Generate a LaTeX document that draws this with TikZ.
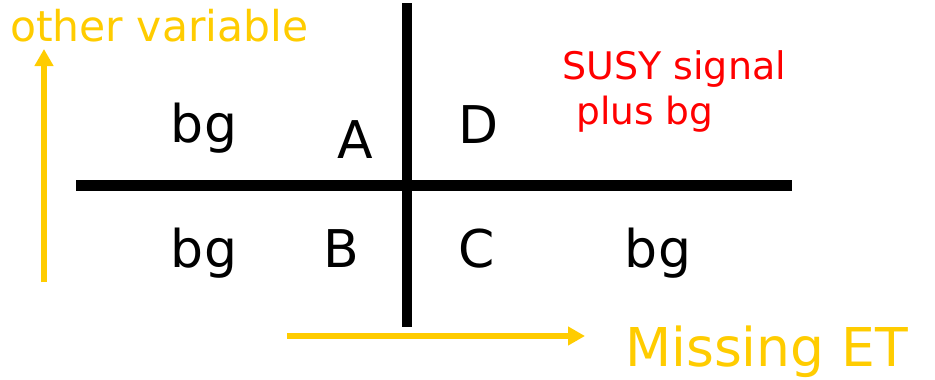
\documentclass[tikz,border=0pt]{standalone}
\usepackage{fontspec}
\setmainfont{DejaVu Sans}
\usetikzlibrary{arrows.meta}
\definecolor{gold}{HTML}{FFCC00}
\definecolor{sred}{HTML}{FF0000}
\tikzset{
  bigtxt/.style={inner sep=0pt, anchor=base, font=\fontsize{52}{60}\selectfont},
  axislabel/.style={inner sep=0pt, anchor=base west, text=gold},
  divider/.style={line width=11pt, black},
  axisarrow/.style={line width=6pt, gold, -{Triangle[width=18pt,length=17pt]}},
}
\begin{document}
\begin{tikzpicture}[x=1pt,y=-1pt]
\useasboundingbox (0,0) rectangle (935,380);
% divider lines
\coordinate (hl) at (76,185);
\coordinate (hr) at (792,185);
\coordinate (vt) at (407,3);
\coordinate (vb) at (407,327);
\draw[divider] (hl) -- (hr);
\draw[divider, line width=10pt] (vt) -- (vb);
% axes
\coordinate (ya0) at (44,282);
\coordinate (ya1) at (44,49);
\coordinate (xa0) at (287,336);
\coordinate (xa1) at (585,336);
\draw[axisarrow] (ya0) -- (ya1);
\draw[axisarrow] (xa0) -- (xa1);
% axis labels
\node[axislabel, font=\fontsize{42.5}{48}\selectfont] (ylab) at (10,41) {other variable};
\node[axislabel, font=\fontsize{53.5}{60}\selectfont] (xlab) at (625,366) {Missing ET};
% signal label
\node[inner sep=0pt, anchor=base west, text=sred, font=\fontsize{38}{44}\selectfont] (sig1) at (562,79) {SUSY signal};
\node[inner sep=0pt, anchor=base west, text=sred, font=\fontsize{37.5}{44}\selectfont] (sig2) at (576,124) {plus bg};
% region labels
\node[bigtxt] (bgul) at (204,142) {bg};
\node[bigtxt] (A) at (355,158) {A};
\node[bigtxt] (D) at (479,143) {D};
\node[bigtxt] (bgll) at (204,267) {bg};
\node[bigtxt] (B) at (341,267) {B};
\node[bigtxt] (C) at (477,267) {C};
\node[bigtxt] (bglr) at (658,267) {bg};
\end{tikzpicture}
\end{document}
